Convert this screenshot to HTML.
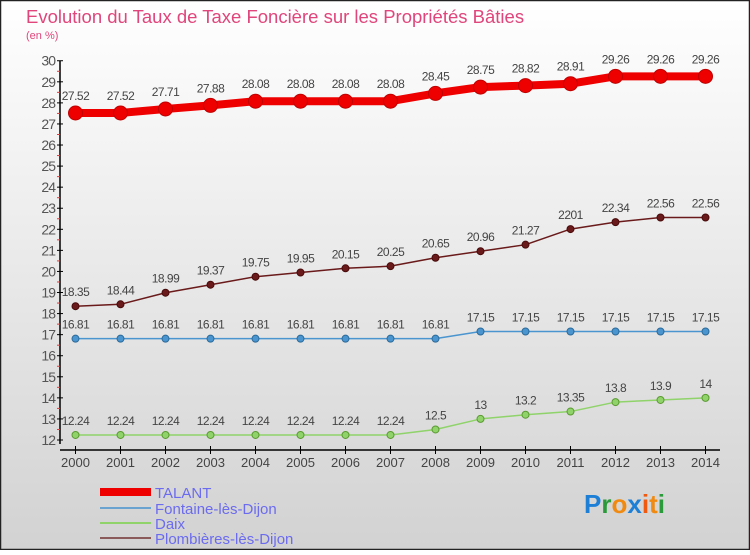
<!DOCTYPE html>
<html><head><meta charset="utf-8"><style>
html,body{margin:0;padding:0}
body{width:750px;height:550px;overflow:hidden;font-family:"Liberation Sans",sans-serif}
</style></head><body>
<svg id="chart" width="750" height="550" xmlns="http://www.w3.org/2000/svg" font-family="Liberation Sans, sans-serif">
<defs><linearGradient id="bg" x1="0" y1="0" x2="0" y2="1"><stop offset="0" stop-color="#ffffff"/><stop offset="1" stop-color="#d2d2d2"/></linearGradient></defs>
<rect x="0.5" y="0.5" width="749" height="549" fill="url(#bg)" stroke="#222" stroke-width="1.5"/>
<text x="26" y="23" font-size="18.5" fill="#e0457b">Evolution du Taux de Taxe Foncière sur les Propriétés Bâties</text>
<text x="26" y="39" font-size="11" fill="#e0457b">(en %)</text>
<g id="axes"></g><g id="series"></g>
<g>
<line x1="100" y1="492" x2="151" y2="492" stroke="#ee0000" stroke-width="8"/>
<text x="155" y="498" font-size="15" fill="#6b6bf0">TALANT</text>
<line x1="100" y1="508" x2="151" y2="508" stroke="#6aa3d0" stroke-width="2"/>
<text x="155" y="514" font-size="15" fill="#6b6bf0">Fontaine-lès-Dijon</text>
<line x1="100" y1="523" x2="151" y2="523" stroke="#8fd36a" stroke-width="2"/>
<text x="155" y="529" font-size="15" fill="#6b6bf0">Daix</text>
<line x1="100" y1="538" x2="151" y2="538" stroke="#8a5a5a" stroke-width="2"/>
<text x="155" y="544" font-size="15" fill="#6b6bf0">Plombières-lès-Dijon</text>
</g>
<g font-size="26" font-weight="bold">
<text x="584" y="513"><tspan fill="#1e7fd6">P</tspan><tspan fill="#2a9a3a">r</tspan><tspan fill="#f08a10">o</tspan><tspan fill="#1e7fd6">x</tspan><tspan fill="#f05a10">i</tspan><tspan fill="#f08a10">t</tspan><tspan fill="#2a9a3a">i</tspan></text>
</g>
</svg>
<script>
const years=[2000,2001,2002,2003,2004,2005,2006,2007,2008,2009,2010,2011,2012,2013,2014];
const talant=[27.52,27.52,27.71,27.88,28.08,28.08,28.08,28.08,28.45,28.75,28.82,28.91,29.26,29.26,29.26];
const fontaine=[16.81,16.81,16.81,16.81,16.81,16.81,16.81,16.81,16.81,17.15,17.15,17.15,17.15,17.15,17.15];
const daix=[12.24,12.24,12.24,12.24,12.24,12.24,12.24,12.24,12.5,13,13.2,13.35,13.8,13.9,14];
const plombieres=[18.35,18.44,18.99,19.37,19.75,19.95,20.15,20.25,20.65,20.96,21.27,22.01,22.34,22.56,22.56];
const plombLabels=["18.35","18.44","18.99","19.37","19.75","19.95","20.15","20.25","20.65","20.96","21.27","2201","22.34","22.56","22.56"];
const yTicks=[12,13,14,15,16,17,18,19,20,21,22,23,24,25,26,27,28,29,30];
const NS="http://www.w3.org/2000/svg";
const x=i=>75.5+i*45;
const y=v=>440-(v-12)*21.07;
function mk(tag,attrs,parent,text){const e=document.createElementNS(NS,tag);for(const k in attrs)e.setAttribute(k,attrs[k]);if(text!==undefined)e.textContent=text;parent.appendChild(e);return e;}
const axes=document.getElementById('axes');
const ya=mk('line',{x1:60,y1:y(30),x2:60,y2:444,stroke:'#000','stroke-width':1.5},axes);


const xa=mk('line',{x1:60,y1:450,x2:720,y2:450,stroke:'#000','stroke-width':1.5},axes);


yTicks.forEach(t=>{
  mk('line',{x1:57,y1:y(t),x2:63,y2:y(t),stroke:'#000'},axes);
  if(t<30)mk('line',{x1:57,y1:y(t+0.5),x2:60,y2:y(t+0.5),stroke:'#e33'},axes);
  const lb=mk('text',{x:55,y:y(t)+5,'font-size':14,'text-anchor':'end',fill:'#555','letter-spacing':'-1'},axes,String(t));
  
  
});
years.forEach((yr,i)=>{
  mk('line',{x1:x(i),y1:446,x2:x(i),y2:454,stroke:'#000'},axes);
  const lb=mk('text',{x:x(i),y:467,'font-size':13,'text-anchor':'middle',fill:'#444'},axes,String(yr));
  
  
});
const sg=document.getElementById('series');
function series(name,vals,labels,color,dark,w,r){
  const g=mk('g',{},sg);
  
  
  const pl=mk('polyline',{points:vals.map((v,i)=>x(i)+','+y(v)).join(' '),fill:'none',stroke:color,'stroke-width':w,'stroke-linejoin':'round'},g);
  
  
  vals.forEach((v,i)=>{
    const c=mk('circle',{cx:x(i),cy:y(v),r:r,fill:color,stroke:dark,'stroke-width':1},g);
    
    
    const t=mk('text',{x:x(i),y:y(v)-10-(r>4?3:0),'font-size':12,'text-anchor':'middle',fill:'#444','letter-spacing':'-0.5'},g,labels?labels[i]:String(v));
    
    
  });
}
series('daix',daix,null,'#8fd36a','#5a9a30',1.5,3.5);
series('fontaine',fontaine,null,'#4a95cf','#2a6a9a',1.5,3.5);
series('plombieres',plombieres,plombLabels,'#6a1a1a','#4a0a0a',1.5,3.5);
series('talant',talant,null,'#ee0000','#c00000',8,7);
</script>
</body></html>
